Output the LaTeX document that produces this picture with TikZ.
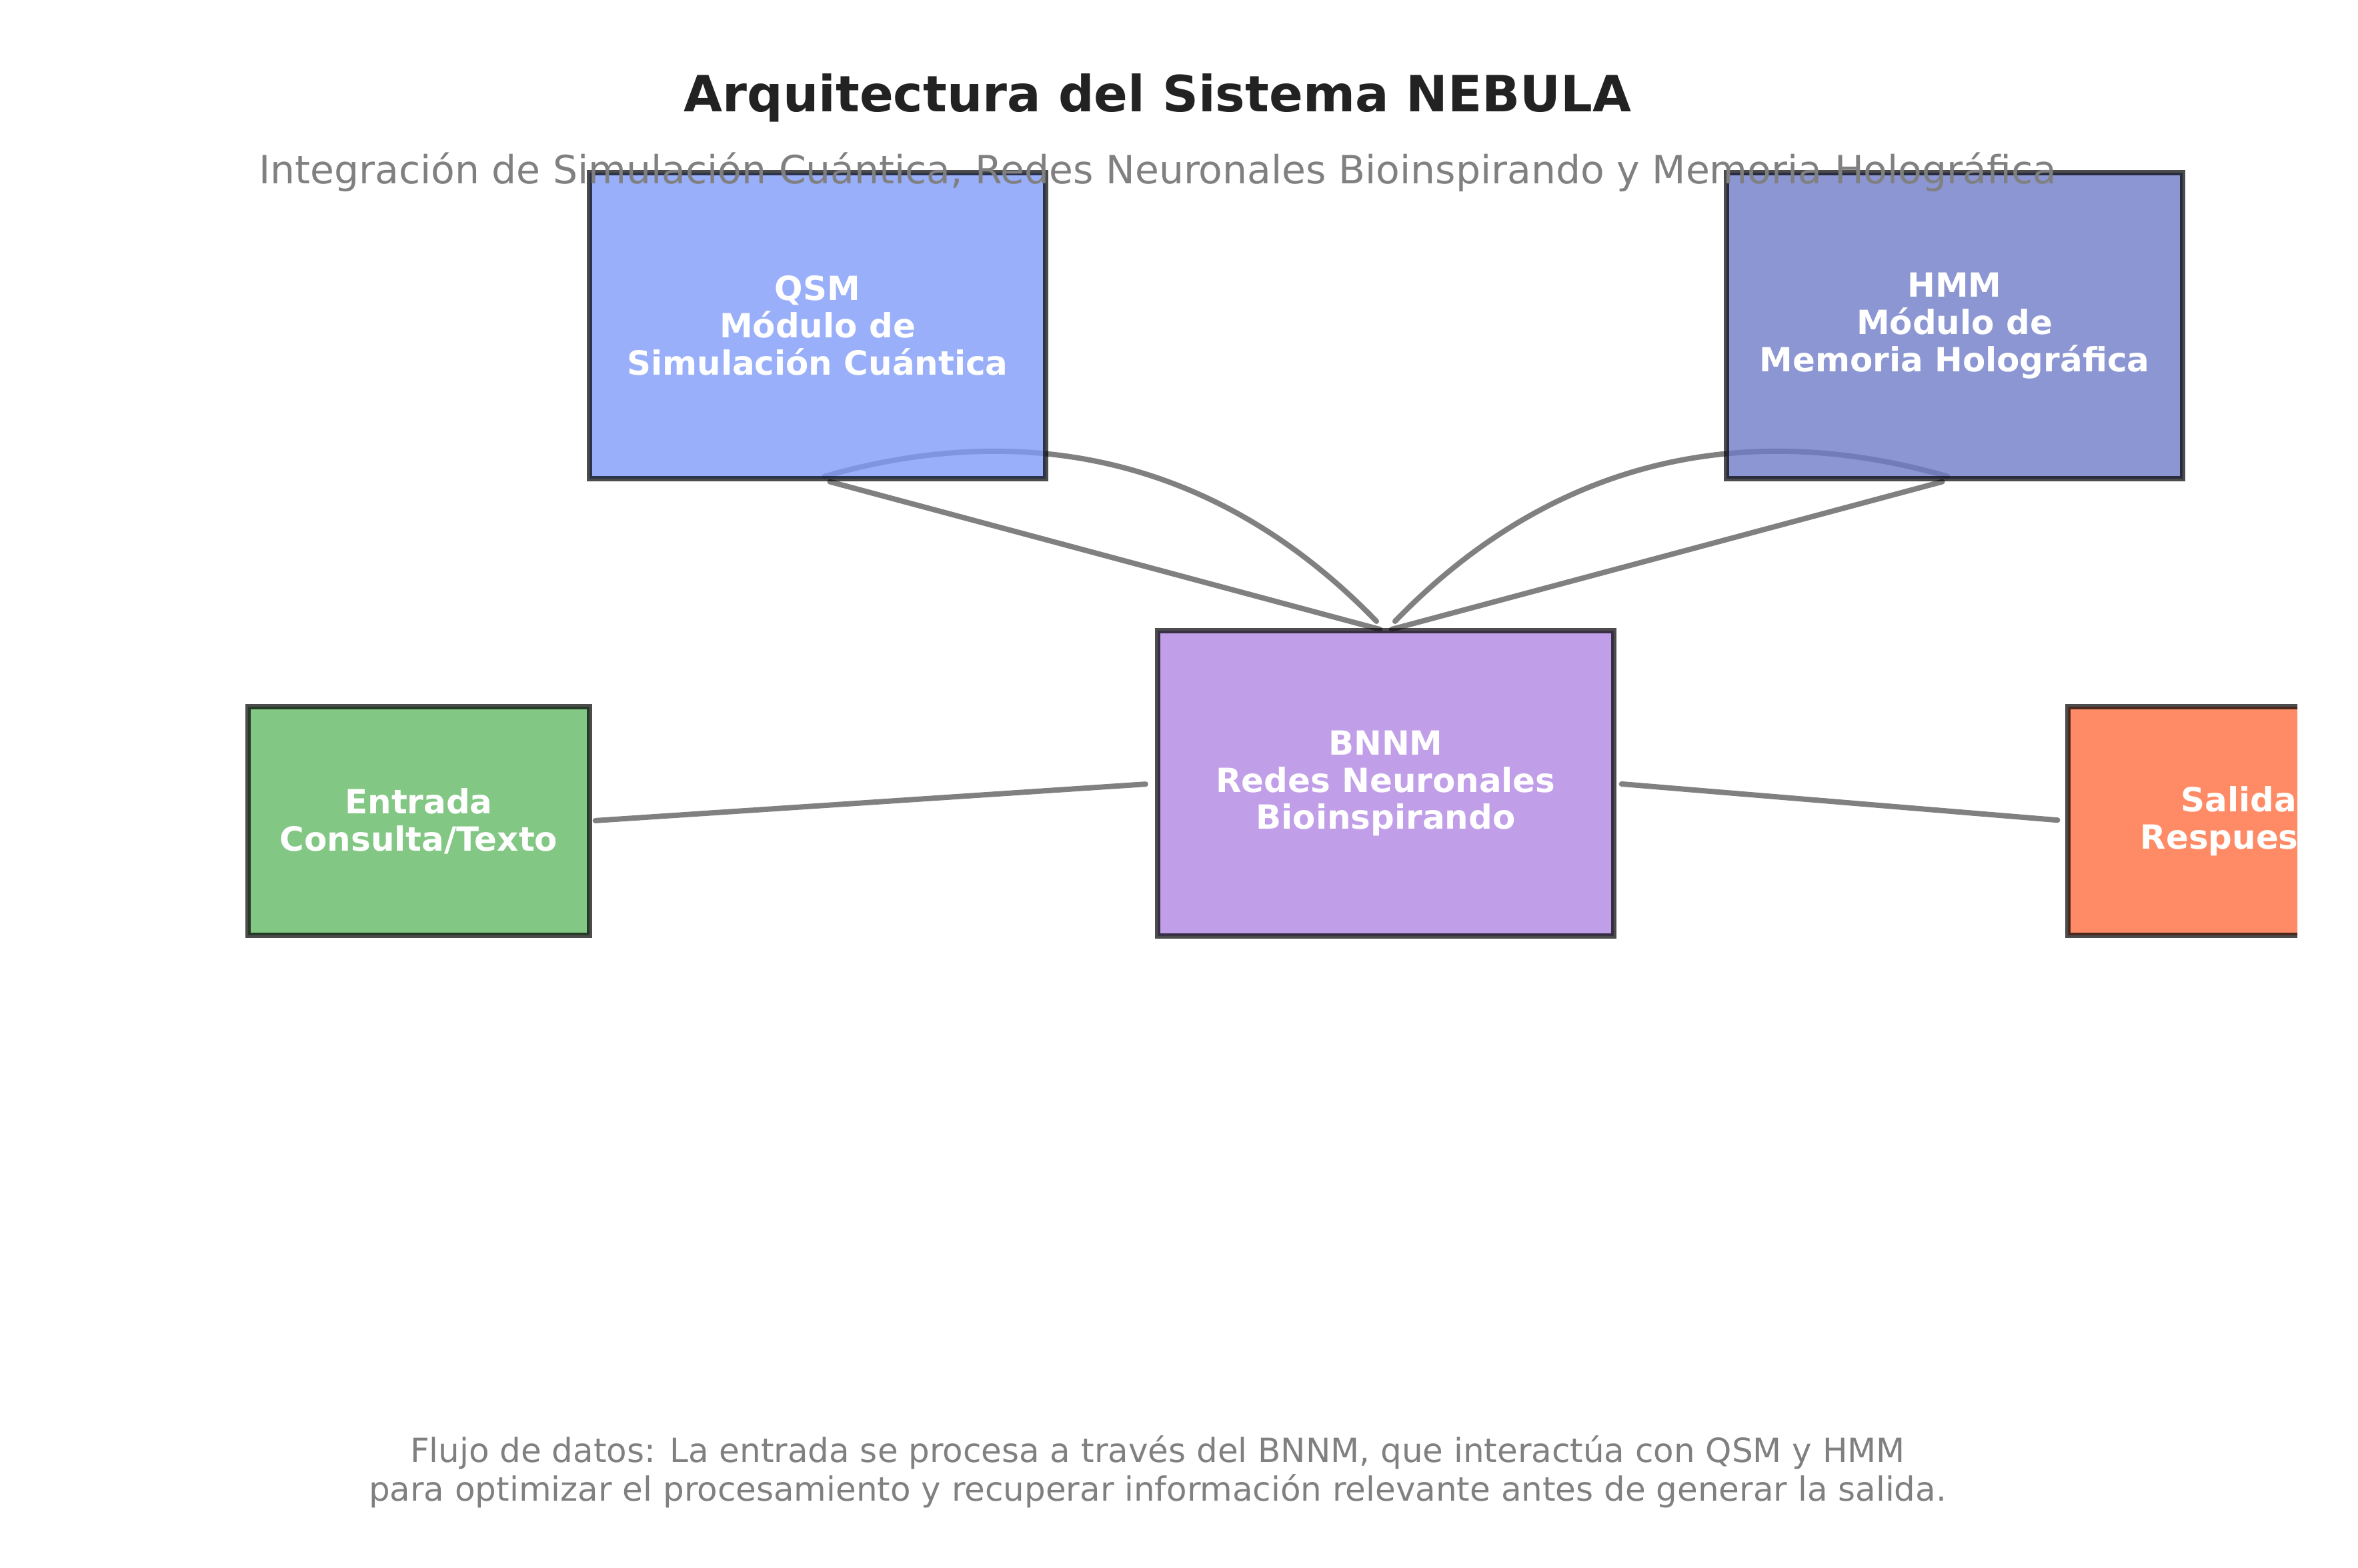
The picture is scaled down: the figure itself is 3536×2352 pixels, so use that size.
\documentclass[tikz,border=0pt]{standalone}
\usepackage{fontspec}
\setmainfont{DejaVu Sans}
\definecolor{qsmc}{HTML}{809BF8}
\definecolor{hmmc}{HTML}{6F7CC7}
\definecolor{bnnmc}{HTML}{B186E3}
\definecolor{entc}{HTML}{63B966}
\definecolor{salc}{HTML}{FF6D40}
\definecolor{titlec}{HTML}{222222}
\definecolor{greyc}{HTML}{808080}
\pgfdeclarelayer{bg}
\pgfsetlayers{bg,main}
\begin{document}
\begin{tikzpicture}[x=0.01cm,y=-0.01cm,
  box/.style={draw=black, draw opacity=0.7, fill opacity=0.8, text opacity=1,
    line width=0.08cm, inner sep=0pt, outer sep=0pt, text=white, align=center,
    font=\bfseries\fontsize{14.2}{15.9}\selectfont},
  conn/.style={draw=greyc, line width=0.08cm, line cap=round},
  bigbox/.style={box, minimum width=6.84cm, minimum height=4.58cm},
  smallbox/.style={box, minimum width=5.12cm, minimum height=3.43cm}
]
\begin{pgfonlayer}{bg}
\fill[white] (0,0) rectangle (3536,2352);
\end{pgfonlayer}
\useasboundingbox (0,0) rectangle (3536,2352);

% boxes
\node[bigbox, fill=qsmc] (qsm) at (1226,488.5) {QSM\\Módulo de\\Simulación Cuántica};
\node[bigbox, fill=hmmc] (hmm) at (2931,488.5) {HMM\\Módulo de\\Memoria Holográfica};
\node[bigbox, fill=bnnmc, minimum height=4.57cm] (bnnm) at (2078,1175) {BNNM\\Redes Neuronales\\Bioinspirando};
\node[smallbox, fill=entc] (ent) at (628,1231.5) {Entrada\\Consulta/Texto};
\begin{scope}
\clip (0,0) rectangle (3445,2352);
\node[smallbox, fill=salc] (sal) at (3357,1231.5) {Salida\\Respuesta};
\end{scope}

% connectors (behind boxes)
\begin{pgfonlayer}{bg}
\draw[conn, shorten <=0.19cm, shorten >=0.09cm] (qsm.south) -- (bnnm.north);
\draw[conn, shorten <=0.19cm, shorten >=0.09cm] (hmm.south) -- (bnnm.north);
\draw[conn, shorten <=0.2cm, shorten >=0.11cm] (bnnm.north) .. controls (1839,699) and (1555,623) .. (qsm.south);
\draw[conn, shorten <=0.2cm, shorten >=0.11cm] (bnnm.north) .. controls (2317,699) and (2601,623) .. (hmm.south);
\draw[conn, shorten <=0.085cm, shorten >=0.18cm] (ent.east) -- (bnnm.west);
\draw[conn, shorten <=0.115cm, shorten >=0.155cm] (bnnm.east) -- (sal.west);
\end{pgfonlayer}

% texts
\node[font=\bfseries\fontsize{21.3}{25}\selectfont, text=titlec, anchor=base, inner sep=0pt] (title) at (1736,168) {Arquitectura del Sistema NEBULA};
\node[font=\fontsize{16.6}{20}\selectfont, text=greyc, anchor=base, inner sep=0pt] (subtitle) at (1736,276) {Integración de Simulación Cuántica, Redes Neuronales Bioinspirando y Memoria Holográfica};
\node[font=\fontsize{14.2}{16}\selectfont, text=greyc, anchor=base, inner sep=0pt] (foot1) at (1736,2193) {Flujo de datos: La entrada se procesa a través del BNNM, que interactúa con QSM y HMM};
\node[font=\fontsize{14.2}{16}\selectfont, text=greyc, anchor=base, inner sep=0pt] (foot2) at (1736,2251) {para optimizar el procesamiento y recuperar información relevante antes de generar la salida.};
\end{tikzpicture}
\end{document}
